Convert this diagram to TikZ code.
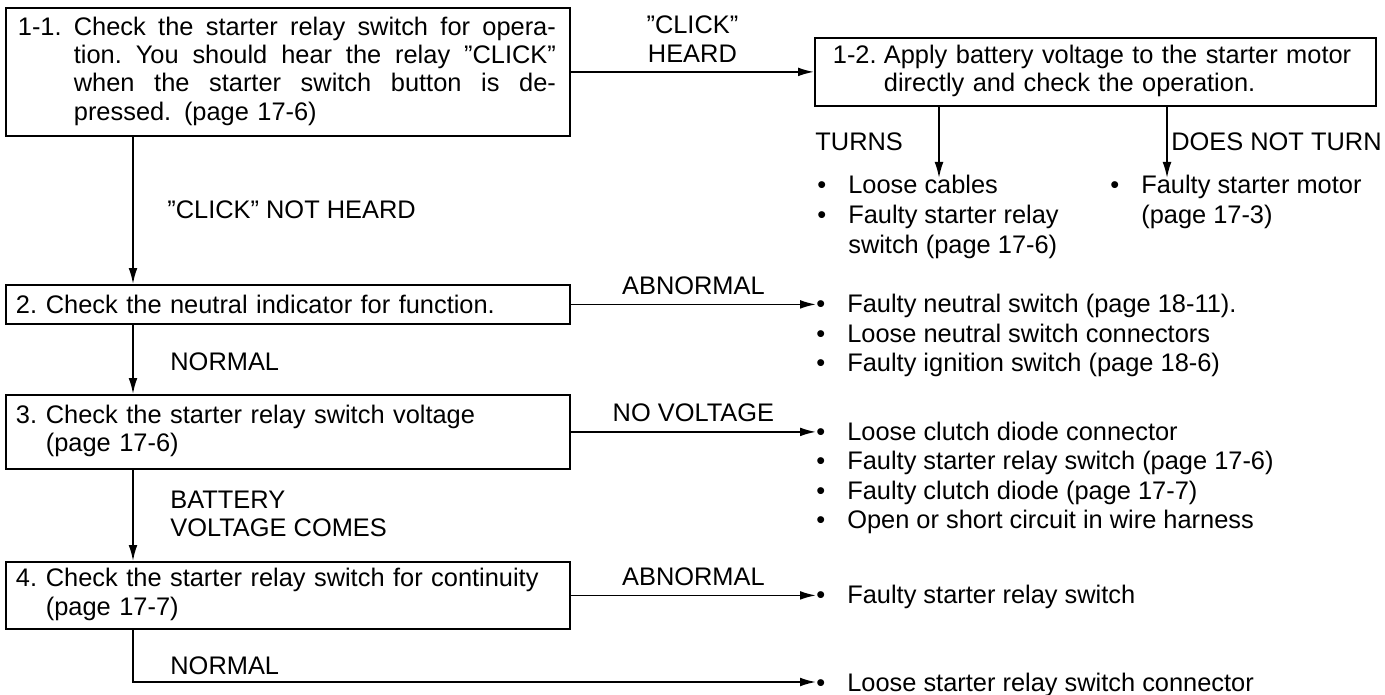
\documentclass[tikz,border=0pt]{standalone}
\usepackage{fontspec}
\setmainfont{Liberation Sans}
\usepackage{tikz}
\usetikzlibrary{positioning, arrows.meta, calc}
\newcommand\stepfont{\fontsize{12.7pt}{14.15pt}\selectfont}
\newcommand\faultfont{\fontsize{12.7pt}{14.8pt}\selectfont}
\newcommand\fillline[1]{\hbox to 241pt{\spaceskip=0.278em plus 1fil\relax\xspaceskip=0.278em plus 1fil\relax #1}}
\newcommand\faultrows[1]{\begin{tabular}[t]{@{}l@{\hspace{11pt}}l@{}}#1\end{tabular}}
\tikzset{
  stepbox/.style={draw, line width=0.9pt, anchor=north west, inner ysep=0pt, font=\stepfont},
  cond/.style={inner sep=0pt, font=\stepfont, align=left},
  faults/.style={inner sep=0pt, anchor=base west, font=\faultfont},
  flow/.style={-{Latex[length=8pt, width=4.4pt]}, line width=0.85pt},
}
\begin{document}
\begin{tikzpicture}[x=0.5pt, y=-0.5pt]
  \useasboundingbox (0,0) rectangle (1385,695);
  \node[stepbox, text width=270pt, inner xsep=6pt, minimum height=64pt] (chk1) at (5,7) {\begin{tabular}{@{}l@{}l@{}}\makebox[28pt][l]{1-1.} & \fillline{Check the starter relay switch for opera-}\\ & \fillline{tion. You should hear the relay ''CLICK''}\\ & \fillline{when the starter switch button is de-}\\ & pressed. (page 17-6)\end{tabular}};
  \node[stepbox, text width=262.5pt, inner xsep=9pt, minimum height=34pt] (chk12) at (814,37) {\begin{tabular}{@{}l@{}l@{}}\makebox[25.5pt][l]{1-2.} & Apply battery voltage to the starter motor\\ & directly and check the operation.\end{tabular}};
  \node[stepbox, text width=272pt, inner xsep=5pt, minimum height=19.5pt] (chk2) at (5,284) {\makebox[15pt][l]{2.}Check the neutral indicator for function.};
  \node[stepbox, text width=272pt, inner xsep=5pt, minimum height=37pt] (chk3) at (5,394) {\begin{tabular}{@{}l@{}l@{}}\makebox[15pt][l]{3.} & Check the starter relay switch voltage\\ & (page 17-6)\end{tabular}};
  \node[stepbox, text width=272pt, inner xsep=5pt, minimum height=33.5pt] (chk4) at (5,561) {\begin{tabular}{@{}l@{}l@{}}\makebox[15pt][l]{4.} & Check the starter relay switch for continuity\\ & (page 17-7)\end{tabular}};

  \coordinate (spine) at (133,0);
  \coordinate (turnsend) at (939,178);
  \coordinate (notturnend) at (1167,178);
  \coordinate (corner) at (133,682);

  \node[cond, anchor=west] (nohear) at (167,210) {''CLICK'' NOT HEARD};
  \node[cond, anchor=west] (norm2) at (170,362) {NORMAL};
  \node[cond, anchor=west] (batt) at (170,514) {BATTERY\\VOLTAGE COMES};
  \node[cond, anchor=west] (norm4) at (170,666) {NORMAL};
  \node[cond, anchor=west] (turns) at (815,142) {TURNS};
  \node[cond, anchor=east] (notturn) at (1382,142) {DOES NOT TURN};

  \node[faults] (cables) at (817,194) {\faultrows{\textbullet & Loose cables\\ \textbullet & Faulty starter relay\\ & switch (page 17-6)}};
  \node[faults] (motor) at (1110,194) {\faultrows{\textbullet & Faulty starter motor\\ & (page 17-3)}};
  \node[faults] (neutral) at (816,312.5) {\faultrows{\textbullet & Faulty neutral switch (page 18-11).\\ \textbullet & Loose neutral switch connectors\\ \textbullet & Faulty ignition switch (page 18-6)}};
  \node[faults] (volt) at (816,440) {\faultrows{\textbullet & Loose clutch diode connector\\ \textbullet & Faulty starter relay switch (page 17-6)\\ \textbullet & Faulty clutch diode (page 17-7)\\ \textbullet & Open or short circuit in wire harness}};
  \node[faults] (relay) at (816,603.5) {\faultrows{\textbullet & Faulty starter relay switch}};
  \node[faults] (conn) at (816,691) {\faultrows{\textbullet & Loose starter relay switch connector}};

  \foreach \a/\b in {chk1/chk2, chk2/chk3, chk3/chk4} {\draw[flow] (spine |- \a.south) -- (spine |- \b.north);}
  \draw[flow] (chk1.east) -- node[cond, above=4.5pt, align=center] {''CLICK''\\HEARD} (chk1.east -| chk12.west);
  \draw[flow] (chk12.south -| turnsend) -- (turnsend);
  \draw[flow] (chk12.south -| notturnend) -- (notturnend);
  \draw[flow] (chk2.east) -- node[cond, above=4.5pt] {ABNORMAL} (chk2.east -| neutral.west);
  \draw[flow] (chk3.east) -- node[cond, above=4.5pt] {NO VOLTAGE} (chk3.east -| volt.west);
  \draw[flow] (chk4.east) -- node[cond, above=4.5pt] {ABNORMAL} (chk4.east -| relay.west);
  \draw[flow] (spine |- chk4.south) -- (corner) -- (corner -| conn.west);
\end{tikzpicture}
\end{document}
